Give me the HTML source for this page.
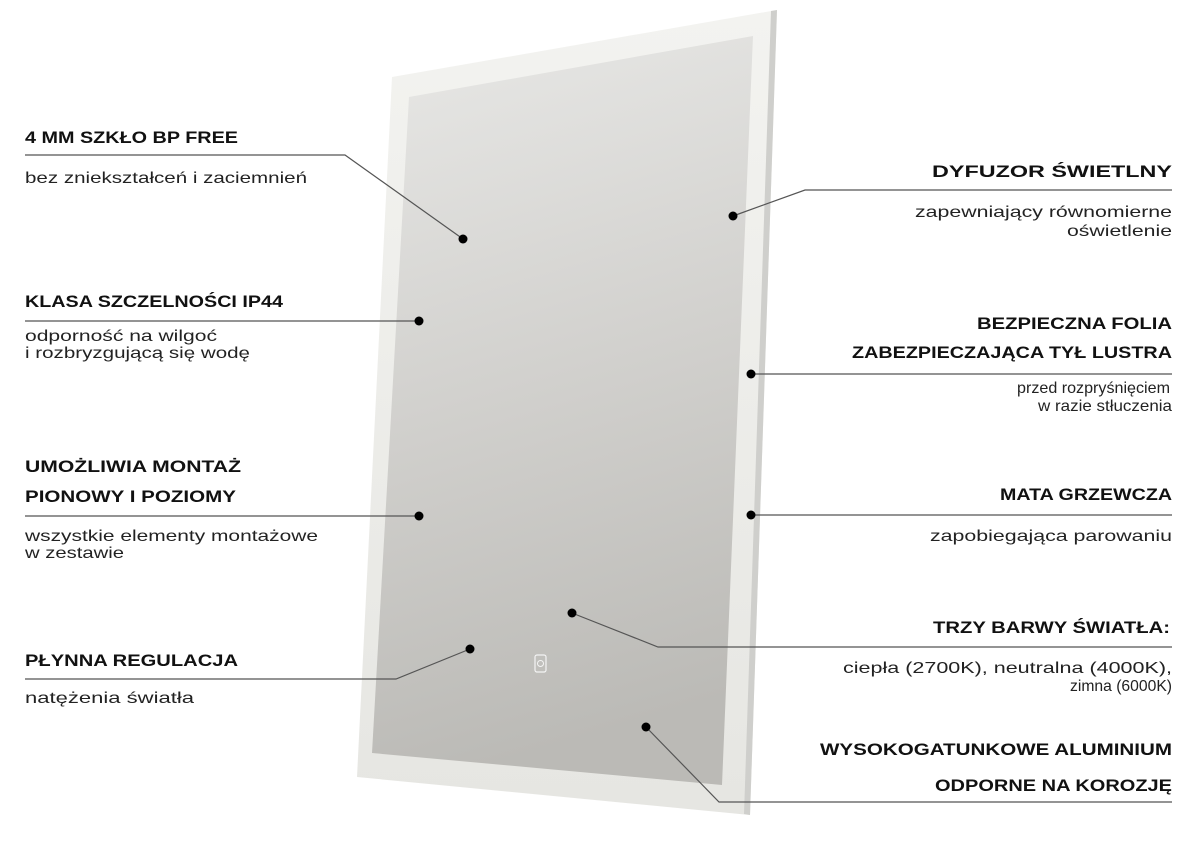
<!DOCTYPE html>
<html><head><meta charset="utf-8"><style>
html,body{margin:0;padding:0;background:#fff;width:1204px;height:850px;overflow:hidden}
svg{display:block}
.t{font-family:"Liberation Sans",sans-serif;font-weight:bold;font-size:17px;fill:#111}
.b{font-family:"Liberation Sans",sans-serif;font-size:16px;fill:#222}
.r{text-anchor:end}
line,polyline{stroke:#555;stroke-width:1.2;fill:none}
</style></head><body>
<svg width="1204" height="850" viewBox="0 0 1204 850">
<defs>
<linearGradient id="g" x1="0" y1="0" x2="0.15" y2="1">
<stop offset="0" stop-color="#e8e8e6"/><stop offset="0.5" stop-color="#d2d1ce"/><stop offset="1" stop-color="#bbbab6"/>
</linearGradient>
<linearGradient id="f" x1="0" y1="0" x2="0" y2="1">
<stop offset="0" stop-color="#f3f3f0"/><stop offset="1" stop-color="#e6e6e2"/>
</linearGradient>
</defs>
<polygon points="392,77 777,10 750,815 357,777" fill="url(#f)"/>
<polygon points="771,11 777,10 750,815 744,814" fill="#cfcfcc"/>
<polygon points="409,97 753,36 722,785 372,753" fill="url(#g)"/>
<rect x="535" y="655" width="11" height="17" rx="2" fill="none" stroke="#f4f4f4" stroke-width="1.2"/>
<circle cx="540.5" cy="663.5" r="3" fill="none" stroke="#f4f4f4" stroke-width="1"/>

<g lengthAdjust="spacingAndGlyphs">
<text class="t" x="25" y="143" textLength="213" lengthAdjust="spacingAndGlyphs">4 MM SZKŁO BP FREE</text>
<text class="b" x="25" y="183" textLength="282" lengthAdjust="spacingAndGlyphs">bez zniekształceń i zaciemnień</text>
<text class="t" x="25" y="307" textLength="258" lengthAdjust="spacingAndGlyphs">KLASA SZCZELNOŚCI IP44</text>
<text class="b" x="25" y="341" textLength="192" lengthAdjust="spacingAndGlyphs">odporność na wilgoć</text>
<text class="b" x="25" y="358" textLength="225" lengthAdjust="spacingAndGlyphs">i rozbryzgującą się wodę</text>
<text class="t" x="25" y="472" textLength="216" lengthAdjust="spacingAndGlyphs">UMOŻLIWIA MONTAŻ</text>
<text class="t" x="25" y="502" textLength="211" lengthAdjust="spacingAndGlyphs">PIONOWY I POZIOMY</text>
<text class="b" x="25" y="541" textLength="293" lengthAdjust="spacingAndGlyphs">wszystkie elementy montażowe</text>
<text class="b" x="25" y="558" textLength="99" lengthAdjust="spacingAndGlyphs">w zestawie</text>
<text class="t" x="25" y="666" textLength="213" lengthAdjust="spacingAndGlyphs">PŁYNNA REGULACJA</text>
<text class="b" x="25" y="703" textLength="169" lengthAdjust="spacingAndGlyphs">natężenia światła</text>

<text class="t" x="932" y="177" textLength="240" lengthAdjust="spacingAndGlyphs">DYFUZOR ŚWIETLNY</text>
<text class="b" x="915" y="217" textLength="257" lengthAdjust="spacingAndGlyphs">zapewniający równomierne</text>
<text class="b" x="1067" y="236" textLength="105" lengthAdjust="spacingAndGlyphs">oświetlenie</text>
<text class="t" x="977" y="329" textLength="195" lengthAdjust="spacingAndGlyphs">BEZPIECZNA FOLIA</text>
<text class="t" x="852" y="358" textLength="320" lengthAdjust="spacingAndGlyphs">ZABEZPIECZAJĄCA TYŁ LUSTRA</text>
<text class="b" x="1017" y="393" textLength="153" lengthAdjust="spacingAndGlyphs">przed rozpryśnięciem</text>
<text class="b" x="1038" y="411" textLength="134" lengthAdjust="spacingAndGlyphs">w razie stłuczenia</text>
<text class="t" x="1000" y="500" textLength="172" lengthAdjust="spacingAndGlyphs">MATA GRZEWCZA</text>
<text class="b" x="930" y="541" textLength="242" lengthAdjust="spacingAndGlyphs">zapobiegająca parowaniu</text>
<text class="t" x="933" y="633" textLength="237" lengthAdjust="spacingAndGlyphs">TRZY BARWY ŚWIATŁA:</text>
<text class="b" x="843" y="673" textLength="329" lengthAdjust="spacingAndGlyphs">ciepła (2700K), neutralna (4000K),</text>
<text class="b" x="1070" y="691" textLength="102" lengthAdjust="spacingAndGlyphs">zimna (6000K)</text>
<text class="t" x="820" y="755" textLength="352" lengthAdjust="spacingAndGlyphs">WYSOKOGATUNKOWE ALUMINIUM</text>
<text class="t" x="935" y="791" textLength="237" lengthAdjust="spacingAndGlyphs">ODPORNE NA KOROZJĘ</text>
</g>

<polyline points="25,155 345,155 463,239"/>
<polyline points="25,321 419,321"/>
<polyline points="25,516 419,516"/>
<polyline points="25,679 396,679 470,649"/>
<polyline points="1172,190 805,190 733,216"/>
<polyline points="1172,374 751,374"/>
<polyline points="1172,515 751,515"/>
<polyline points="1172,647 658,647 572,613"/>
<polyline points="1172,802 719,802 646,727"/>

<g fill="#000">
<circle cx="463" cy="239" r="4.5"/><circle cx="419" cy="321" r="4.5"/><circle cx="419" cy="516" r="4.5"/>
<circle cx="470" cy="649" r="4.5"/><circle cx="733" cy="216" r="4.5"/><circle cx="751" cy="374" r="4.5"/>
<circle cx="751" cy="515" r="4.5"/><circle cx="572" cy="613" r="4.5"/><circle cx="646" cy="727" r="4.5"/>
</g>
</svg>
</body></html>
